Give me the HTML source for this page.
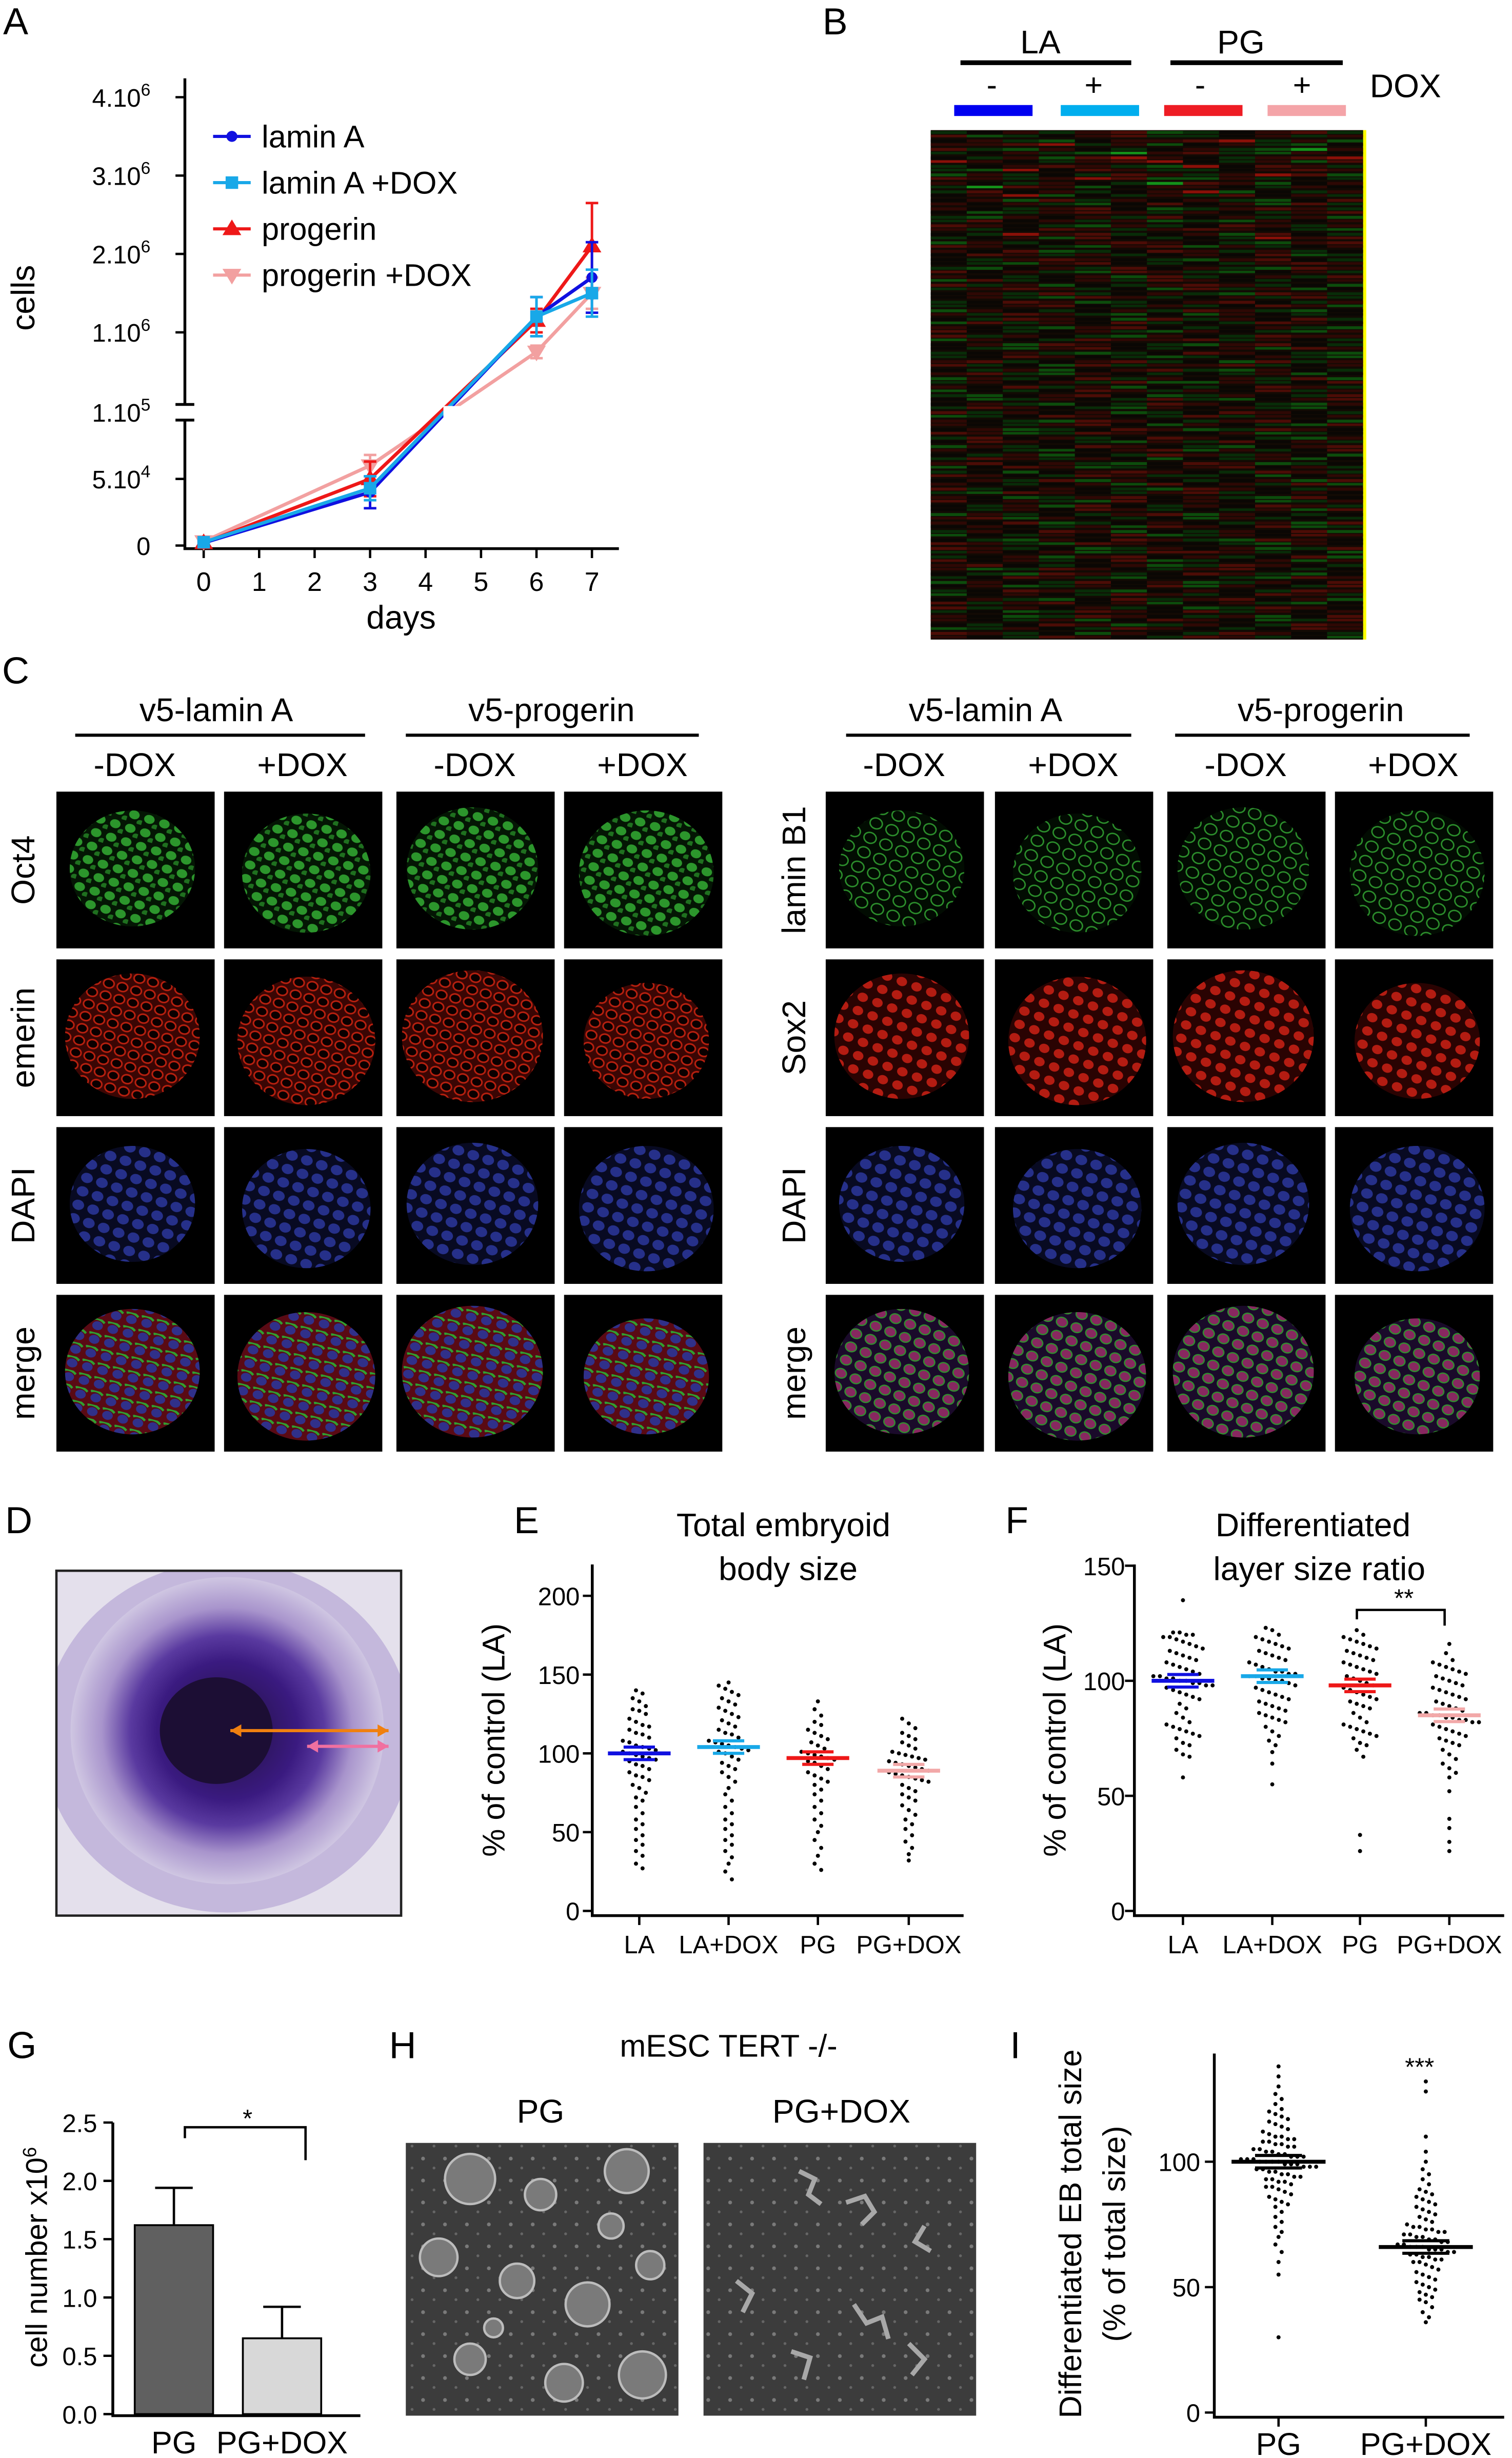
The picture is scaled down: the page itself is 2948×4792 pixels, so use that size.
<!DOCTYPE html>
<html><head><meta charset="utf-8"><style>
html,body{margin:0;padding:0;background:#fff;}
svg{display:block;font-family:"Liberation Sans",Arial,sans-serif;}
</style></head><body>
<svg id="fig" width="2948" height="4792" viewBox="0 0 965 1568" preserveAspectRatio="none" xmlns="http://www.w3.org/2000/svg">
<defs>
<pattern id="pG" width="10" height="9" patternUnits="userSpaceOnUse" patternTransform="rotate(17)"><rect width="10" height="9" fill="#041604"/><ellipse cx="4" cy="4" rx="3.4" ry="2.8" fill="#2c962c"/><ellipse cx="9" cy="8" rx="2.3" ry="1.9" fill="#1f701f"/></pattern>
<pattern id="pGr" width="11" height="10" patternUnits="userSpaceOnUse" patternTransform="rotate(23)"><rect width="11" height="10" fill="#020c02"/><ellipse cx="5" cy="5" rx="4" ry="3.4" fill="none" stroke="#2c902c" stroke-width="0.9"/></pattern>
<pattern id="pR" width="9" height="8" patternUnits="userSpaceOnUse" patternTransform="rotate(15)"><rect width="9" height="8" fill="#3a0604"/><ellipse cx="4.5" cy="4" rx="3.4" ry="2.8" fill="#0a0000" stroke="#b8200f" stroke-width="1"/></pattern>
<pattern id="pR2" width="10" height="9" patternUnits="userSpaceOnUse" patternTransform="rotate(20)"><rect width="10" height="9" fill="#2a0302"/><ellipse cx="5" cy="4.5" rx="3.4" ry="2.9" fill="#b41c12"/></pattern>
<pattern id="pB" width="10" height="9" patternUnits="userSpaceOnUse" patternTransform="rotate(18)"><rect width="10" height="9" fill="#080a22"/><ellipse cx="5" cy="4.5" rx="3.8" ry="3.2" fill="#26308a"/></pattern>
<pattern id="pM" width="10" height="9" patternUnits="userSpaceOnUse" patternTransform="rotate(14)"><rect width="10" height="9" fill="#5a0a14"/><ellipse cx="5" cy="4.5" rx="3.4" ry="2.8" fill="#30308a"/><path d="M1 1 Q5 -1 9 2" stroke="#30a030" stroke-width="1.5" fill="none"/></pattern>
<pattern id="pM2" width="10" height="9" patternUnits="userSpaceOnUse" patternTransform="rotate(21)"><rect width="10" height="9" fill="#1a0a2a"/><ellipse cx="5" cy="4.5" rx="3.6" ry="3" fill="#882860" stroke="#30902e" stroke-width="0.8"/></pattern>
<pattern id="pH" width="14" height="14" patternUnits="userSpaceOnUse"><rect width="14" height="14" fill="#3c3c3c"/><circle cx="4" cy="5" r="1.2" fill="#7a7a7a"/><circle cx="11" cy="11" r="0.9" fill="#666"/></pattern>
<radialGradient id="gD" cx="50%" cy="50%" r="50%"><stop offset="0" stop-color="#20103a"/><stop offset="0.45" stop-color="#3a1a80"/><stop offset="0.62" stop-color="#5a3aa0"/><stop offset="0.8" stop-color="#a894cc"/><stop offset="1" stop-color="#cfc6e2"/></radialGradient>
<clipPath id="clipD"><rect x="36" y="1002" width="220" height="220"/></clipPath>
</defs>
<g id="root"></g>
</svg>
<script>
const NS='http://www.w3.org/2000/svg';
const root=document.getElementById('root');
function mk(tag,at,parent){const e=document.createElementNS(NS,tag);for(const k in at)e.setAttribute(k,at[k]);(parent||root).appendChild(e);return e;}
function tx(s,x,y,sz,anchor,parent,rot){const e=mk('text',{x:x,y:y,'font-size':sz,'text-anchor':anchor||'middle',fill:'#000'},parent);if(rot)e.setAttribute('transform','rotate(-90 '+x+' '+y+')');e.textContent=s;return e;}
function ln(x1,y1,x2,y2,w,c,parent){return mk('line',{x1:x1,y1:y1,x2:x2,y2:y2,stroke:c||'#000','stroke-width':w||1.5},parent);}

/* ===== Panel A data ===== */
const aDays=[0,3,6,7];
const aLaminA=[2000,40000,1200000,1700000];
const aLaminADox=[2500,43000,1200000,1500000];
const aProgerin=[2000,50000,1150000,2100000];
const aProgerinDox=[3000,60000,750000,1500000];
const aErrLaminA=[1000,12000,250000,450000];
const aErrLaminADox=[1000,9000,250000,300000];
const aErrProgerin=[1000,13000,150000,550000];
const aErrProgerinDox=[1000,8000,80000,200000];
const aYTicks=['0','5.10^4','1.10^5','1.10^6','2.10^6','3.10^6','4.10^6'];
const aYTickVals=[0,50000,100000,1000000,2000000,3000000,4000000];
const aXTicks=[0,1,2,3,4,5,6,7];

/* ===== Panel E/F/I data ===== */
const eCats=['LA','LA+DOX','PG','PG+DOX'];
const eMeans=[100,104,97,89];
const eLA=[140,138,135,133,130,128,127,125,122,120,118,117,115,113,112,110,108,107,105,104,103,102,101,100,99,98,97,96,95,93,92,90,88,86,85,83,80,78,75,72,70,66,62,58,55,52,48,45,42,38,35,30,27];
const eLADox=[145,143,141,139,137,135,133,131,129,127,125,123,121,119,117,115,113,112,110,108,107,106,105,104,103,102,101,100,98,96,94,92,90,88,85,82,78,74,70,66,62,58,55,52,48,45,42,38,34,30,25,20];
const ePG=[133,128,124,120,118,115,113,111,109,107,105,103,101,100,99,98,97,96,95,94,92,90,88,86,84,82,80,77,74,70,66,62,58,54,50,45,40,35,30,26];
const ePGDox=[122,119,116,113,111,109,107,105,103,101,100,99,98,97,96,95,94,93,92,91,90,89,88,87,86,85,84,83,82,80,78,76,74,72,70,67,64,61,58,55,52,48,44,40,36,32];
const fCats=['LA','LA+DOX','PG','PG+DOX'];
const fMeans=[100,102,98,85];
const fLA=[135,121,121,120,120,119,119,118,117,116,115,114,113,112,111,110,109,108,107,106,105,104,103,102,102,101,101,100,100,99,99,98,98,97,96,95,94,93,92,90,88,86,84,82,81,80,79,78,77,76,75,73,72,70,68,67,58];
const fLADox=[123,122,120,119,118,117,116,115,114,113,112,111,110,109,108,107,106,105,104,104,103,103,102,102,101,101,100,100,99,98,97,96,95,94,93,92,91,90,89,88,87,86,85,84,83,82,80,78,76,74,72,69,64,55];
const fPG=[122,120,119,118,117,116,115,114,113,112,111,110,109,108,107,106,105,104,103,102,101,100,99,98,97,96,95,94,93,92,91,90,89,88,86,84,82,81,80,79,78,77,76,75,73,72,70,67,33,26];
const fPGDox=[116,112,109,108,107,106,105,104,103,102,101,100,99,98,97,96,95,94,93,92,91,90,89,88,87,86,86,85,85,84,84,83,83,82,82,81,80,79,78,77,76,75,74,73,72,70,68,66,64,62,60,58,52,40,36,30,26];
const gCats=['PG','PG+DOX'];
const gVals=[1.62,0.65];
const gErr=[0.32,0.27];
const gYTicks=[0,0.5,1.0,1.5,2.0,2.5];
const iCats=['PG','PG+DOX'];
const iMeans=[100,66];
const iPG=[138,134,130,127,125,123,121,120,119,118,117,116,115,114,113,112,111,110,110,109,109,108,108,107,107,106,106,105,105,104,104,103,103,102,102,102,101,101,101,100,100,100,100,99,99,99,98,98,98,97,97,96,96,95,95,94,94,93,93,92,92,91,90,90,89,88,87,86,85,84,83,82,80,78,76,74,72,70,67,64,60,55,30];
const iPGDox=[132,128,110,104,100,97,95,93,91,89,88,87,86,85,84,83,82,81,80,79,78,77,76,75,74,74,73,73,72,72,71,71,70,70,69,69,68,68,67,67,66,66,66,65,65,65,64,64,63,63,62,62,61,61,60,60,59,58,57,56,55,54,53,52,51,50,49,48,47,46,45,44,42,40,38,36];
/* heatmap: 0 black,1 dim red,2 dim green,3 red,4 green,5 mid red,6 mid green */
const hmRows=['201215620152','012601153216','526102012641','021653102153','201512630512','612025121356','102102451601','250120136021','016521012605','102150621512','261012501216','510261205121','023152016502','612015102615','105620512120','021510261502','260125012651','102016520125','521602151206','012520126512','205162015021','610201251260','025106521052','102615020126','521026102511','016510261502','201262051026','152015206521','021601526102','612052101256','105216020512','260150621025','012602510261','521016205102','102651021506','016205162510','250120510261','612051026015','021602512106','150126051620','206015102512','012561020165','520102651021','106215012650','021650210512','612021561020','105620102165','210516021056','026105126510','512062101625','201615012056','150201625102','026512051260','610250162105','205126010251','012605215016','521012062510','106251021605','020516210251','512061025102'];
const hmCols=12;

/* ===== Panel A ===== */
(function(){
const g=mk('g',{});


const X=d=>130+d*35.4;
const Y=v=>v<=100000?348-85*v/100000:262-50*v/1000000;
const lbl=tx('A',10,22,24,'middle',g);


const ax=mk('path',{d:'M118 50 L118 258 M118 268 L118 350 L395 350',stroke:'#000','stroke-width':1.8,fill:'none'},g);


ln(112,258,124,258,1.8,'#000',g);ln(112,268,124,268,1.8,'#000',g);
aYTickVals.forEach((v,i)=>{
 if(i===2)return;
 const y=Y(v);ln(112,y,118,y,1.5,'#000',g);
 const t=mk('text',{x:96,y:y+6,'font-size':16,'text-anchor':'end'},g);
 
 
 const p=aYTicks[i].split('^');t.textContent=p[0];
 if(p[1]){const s=mk('tspan',{dy:-7,'font-size':11},t);s.textContent=p[1];}
});
{const t=mk('text',{x:96,y:269,'font-size':16,'text-anchor':'end'},g);t.textContent='1.10';const s=mk('tspan',{dy:-7,'font-size':11},t);s.textContent='5';

}
aXTicks.forEach(d=>{const x=X(d);ln(x,350,x,356,1.5,'#000',g);
 const t=tx(String(d),x,377,17,'middle',g);
 
 });
const xt=tx('days',256,401,21,'middle',g);


const yt=tx('cells',22,190,21,'middle',g,true);


const series=[[aLaminA,aErrLaminA,'#1010e0','circle','lamin A'],[aLaminADox,aErrLaminADox,'#18a8e8','square','lamin A +DOX'],[aProgerin,aErrProgerin,'#ee1818','tri','progerin'],[aProgerinDox,aErrProgerinDox,'#f2a0a0','tridown','progerin +DOX']];
function marker(type,x,y,c,parent){
 if(type==='circle')return mk('circle',{cx:x,cy:y,r:3.5,fill:c},parent);
 if(type==='square')return mk('rect',{x:x-4,y:y-4,width:8,height:8,fill:c},parent);
 if(type==='tri')return mk('path',{d:`M${x} ${y-6}L${x+6} ${y+4}L${x-6} ${y+4}Z`,fill:c},parent);
 return mk('path',{d:`M${x} ${y+6}L${x+6} ${y-4}L${x-6} ${y-4}Z`,fill:c},parent);
}
[3,2,0,1].forEach(si=>{
 const [vals,errs,c,m]=series[si];
 const sg=mk('g',{},g);
 
 
 const pts=vals.map((v,i)=>X(aDays[i])+','+Y(v)).join(' ');
 mk('polyline',{points:pts,stroke:c,'stroke-width':2.2,fill:'none'},sg);
 vals.forEach((v,i)=>{const x=X(aDays[i]);const y1=Y(v+errs[i]),y2=Y(Math.max(0,v-errs[i]));
  ln(x,y1,x,y2,1.6,c,sg);ln(x-4,y1,x+4,y1,1.6,c,sg);ln(x-4,y2,x+4,y2,1.6,c,sg);
  marker(m,x,Y(v),c,sg);});
});
mk('rect',{x:283,y:259,width:12,height:8,fill:'#fff'},g);
series.forEach((s,i)=>{const y=87+i*29.5;
 const lg=mk('g',{},g);
 
 
 ln(136,y,160,y,2,s[2],lg);marker(s[3],148,y,s[2],lg);
 tx(s[4],167,y+7,20,'start',lg);});
})();

/* ===== Panel B ===== */
(function(){
const g=mk('g',{});


const l=tx('B',533,22,24,'middle',g);


tx('LA',664,34,21,'middle',g);tx('PG',792,34,21,'middle',g);
ln(613,40,722,40,3,'#000',g);ln(747,40,857,40,3,'#000',g);
tx('-',633,61,20,'middle',g);tx('+',698,61,20,'middle',g);tx('-',766,61,20,'middle',g);tx('+',831,61,20,'middle',g);
tx('DOX',897,62,21,'middle',g);
[['#0000f0',609],['#00aeee',677],['#ee1c24',743],['#f4a4a8',809]].forEach(b=>{const r=mk('rect',{x:b[1],y:67,width:50,height:7,fill:b[0]},g);
 
 });
const x0=594,y0=83,W=276,H=325;
mk('rect',{x:x0,y:y0,width:W,height:H,fill:'#120a04'},g);
const colors=['#0a0704','#2e0804','#082c08','#8a1008','#14901a','#4c0c06','#0c4c0c'];
const cw=W/hmCols,rh=H/hmRows.length;
hmRows.forEach((row,ri)=>{for(let ci=0;ci<hmCols;ci++){const v=+row[ci];
 const c=mk('rect',{x:x0+ci*cw,y:y0+ri*rh+rh*0.1,width:cw+0.2,height:rh*0.35,fill:colors[v]},g);
 
 
 const v2=+row[(ci+5)%hmCols];
 const c2=mk('rect',{x:x0+ci*cw,y:y0+ri*rh+rh*0.55,width:cw+0.2,height:rh*0.3,fill:colors[v2]},g);
 
 }});
mk('rect',{x:870,y:83,width:2,height:325,fill:'#ffff00'},g);
})();

/* ===== Panel C ===== */
(function(){
const g=mk('g',{});


const l=tx('C',10,436,24,'middle',g);


const rows=[505,612,719,826];
function block(cols,heads,subs,hx,lines,labels,fills,labx){
 heads.forEach((h,i)=>tx(h,hx[i],460,21,'middle',g));
 lines.forEach(a=>ln(a[0],469,a[1],469,2,'#000',g));
 cols.forEach((x,i)=>tx(subs[i],x+50,495,21,'middle',g));
 rows.forEach((y,ri)=>{
  const t=tx(labels[ri],labx,y+50,21,'middle',g,true);
  
  
  cols.forEach((x,ci)=>{
  const im=mk('g',{},g);
  
  
  mk('rect',{x:x,y:y,width:101,height:100,fill:'#000'},im);
  const r=40+((ci*7+ri*3)%6);
  mk('ellipse',{cx:x+50.5+((ci%2)?2:-2),cy:y+50+((ci%2)?2:-1),rx:r,ry:r-3,fill:'url(#'+fills[ri]+')'},im);
 });});
}
block([36,143,253,360],['v5-lamin A','v5-progerin'],['-DOX','+DOX','-DOX','+DOX'],[138,352],[[48,233],[259,446]],['Oct4','emerin','DAPI','merge'],['pG','pR','pB','pM'],22);
block([527,635,745,852],['v5-lamin A','v5-progerin'],['-DOX','+DOX','-DOX','+DOX'],[629,843],[[540,722],[750,938]],['lamin B1','Sox2','DAPI','merge'],['pGr','pR2','pB','pM2'],514);
})();

/* ===== Panel D ===== */
(function(){
const g=mk('g',{});


const l=tx('D',12,978,24,'middle',g);


const cg=mk('g',{'clip-path':'url(#clipD)'},g);
mk('rect',{x:36,y:1002,width:220,height:220,fill:'#e4e0ec'},cg);
mk('ellipse',{cx:145,cy:1108,rx:118,ry:112,fill:'#c4b8dc'},cg);
mk('ellipse',{cx:145,cy:1104,rx:100,ry:98,fill:'url(#gD)'},cg);
mk('ellipse',{cx:138,cy:1104,rx:36,ry:34,fill:'#1c0e34'},cg);
mk('rect',{x:36,y:1002,width:220,height:220,fill:'none',stroke:'#222','stroke-width':1.5},g);
const a1=mk('line',{x1:147,y1:1104,x2:248,y2:1104,stroke:'#f08010','stroke-width':2},g);


mk('path',{d:'M147 1104 l7 -4 v8z M248 1104 l-7 -4 v8z',fill:'#f08010'},g);
const a2=mk('line',{x1:196,y1:1114,x2:248,y2:1114,stroke:'#f070a0','stroke-width':2},g);


mk('path',{d:'M196 1114 l7 -4 v8z M248 1114 l-7 -4 v8z',fill:'#f070a0'},g);
})();

/* ===== Scatter helper ===== */
function scatter(g,groups,means,colors,xs,Y,binPx,dx,r,mw){
 groups.forEach((vals,gi)=>{
  const bins={};
  vals.forEach(v=>{const b=Math.round(Y(v)/binPx);(bins[b]=bins[b]||[]).push(v);});
  Object.keys(bins).forEach(b=>{const arr=bins[b];const n=arr.length;
   arr.forEach((v,k)=>{const off=(k-(n-1)/2)*dx;
    const d=mk('circle',{cx:xs[gi]+off,cy:Y(v),r:r,fill:'#000'},g);
    
    });});
  const y=Y(means[gi]);
  const m=mk('g',{},g);
  
  
  ln(xs[gi]-mw,y,xs[gi]+mw,y,2.5,colors[gi],m);
  ln(xs[gi]-mw/2,y-4,xs[gi]+mw/2,y-4,2,colors[gi],m);ln(xs[gi]-mw/2,y+4,xs[gi]+mw/2,y+4,2,colors[gi],m);
 });
}
const sColors=['#1010e0','#18a8e8','#ee1818','#f2a8a8'];

/* ===== Panel E ===== */
(function(){
const g=mk('g',{});


const l=tx('E',336,978,24,'middle',g);


const t1=tx('Total embryoid',500,980,21,'middle',g);


tx('body size',503,1008,21,'middle',g);
const Y=v=>1219-v*1.005;
const xs=[408,465,522,580];
mk('path',{d:'M378 998 L378 1222 L615 1222',stroke:'#000','stroke-width':1.8,fill:'none'},g);
[0,50,100,150,200].forEach(v=>{ln(372,Y(v),378,Y(v),1.5,'#000',g);
 const t=tx(String(v),370,Y(v)+6,16,'end',g);
 
 });
eCats.forEach((c,i)=>{ln(xs[i],1222,xs[i],1228,1.5,'#000',g);
 const t=tx(c,xs[i],1246,16,'middle',g);
 
 });
const yt=tx('% of control (LA)',322,1110,20,'middle',g,true);


scatter(g,[eLA,eLADox,ePG,ePGDox],eMeans,sColors,xs,Y,7,4.2,1.3,20);
})();

/* ===== Panel F ===== */
(function(){
const g=mk('g',{});


const l=tx('F',649,978,24,'middle',g);


const t1=tx('Differentiated',838,980,21,'middle',g);


tx('layer size ratio',842,1008,21,'middle',g);
const Y=v=>1219-v*1.468;
const xs=[755,812,868,925];
mk('path',{d:'M724 998 L724 1222 L960 1222',stroke:'#000','stroke-width':1.8,fill:'none'},g);
[0,50,100,150].forEach(v=>{ln(718,Y(v),724,Y(v),1.5,'#000',g);
 const t=tx(String(v),718,Y(v)+6,16,'end',g);
 
 });
fCats.forEach((c,i)=>{ln(xs[i],1222,xs[i],1228,1.5,'#000',g);
 const t=tx(c,xs[i],1246,16,'middle',g);
 
 });
const yt=tx('% of control (LA)',680,1110,20,'middle',g,true);


scatter(g,[fLA,fLADox,fPG,fPGDox],fMeans,sColors,xs,Y,8,4.2,1.3,20);
mk('path',{d:'M866 1033 L866 1027 L922 1027 L922 1037',stroke:'#000','stroke-width':1.5,fill:'none'},g);
const s=tx('**',896,1025,16,'middle',g);


})();

/* ===== Panel G ===== */
(function(){
const g=mk('g',{});


const l=tx('G',14,1313,24,'middle',g);


const Y=v=>1540-v*74.4;
const xs=[111,180];
mk('path',{d:'M72 1354 L72 1541 L230 1541',stroke:'#000','stroke-width':1.8,fill:'none'},g);
gYTicks.forEach(v=>{ln(66,Y(v),72,Y(v),1.5,'#000',g);
 const t=tx(v.toFixed(1),62,Y(v)+6,16,'end',g);
 
 });
const fills=['#606060','#d8d8d8'];
gVals.forEach((v,i)=>{
 const b=mk('rect',{x:xs[i]-25,y:Y(v),width:50,height:Y(0)-Y(v),fill:fills[i],stroke:'#000','stroke-width':1.2},g);
 
 
 const ye=Y(v+gErr[i]);ln(xs[i],Y(v),xs[i],ye,1.5,'#000',g);ln(xs[i]-12,ye,xs[i]+12,ye,1.5,'#000',g);
 const t=tx(gCats[i],xs[i],1565,20,'middle',g);
 
 });
const yt=mk('text',{x:30,y:1440,'font-size':19,'text-anchor':'middle',transform:'rotate(-90 30 1440)'},g);
yt.textContent='cell number x10';const sp=mk('tspan',{dy:-7,'font-size':12},yt);sp.textContent='6';


mk('path',{d:'M118 1364 L118 1357 L195 1357 L195 1378',stroke:'#000','stroke-width':1.5,fill:'none'},g);
const s=tx('*',158,1357,16,'middle',g);


})();

/* ===== Panel H ===== */
(function(){
const g=mk('g',{});


const l=tx('H',257,1313,24,'middle',g);


tx('mESC TERT -/-',465,1312,20,'middle',g);
tx('PG',345,1354,21,'middle',g);tx('PG+DOX',537,1354,21,'middle',g);
const i1=mk('rect',{x:259,y:1367,width:174,height:174,fill:'url(#pH)'},g);


[[300,1390,16],[345,1400,10],[400,1385,14],[280,1440,12],[330,1455,11],[375,1470,14],[415,1445,9],[300,1505,10],[360,1520,12],[410,1515,15],[390,1420,8],[315,1485,6]].forEach(c=>{
 mk('circle',{cx:c[0],cy:c[1],r:c[2],fill:'#7a7a7a',stroke:'#bcbcbc','stroke-width':1.5},g);});
const i2=mk('rect',{x:449,y:1367,width:174,height:174,fill:'url(#pH)'},g);


[[510,1385,'M0 0 l10 5 l-4 10 l8 6'],[540,1405,'M0 0 l12 -4 l6 10 l-8 8'],[470,1455,'M0 0 l10 8 l-6 12'],[545,1470,'M0 0 l8 12 l10 -4 l4 14'],[590,1420,'M0 0 l-6 10 l10 6'],[505,1500,'M0 0 l12 4 l-4 14'],[580,1495,'M0 0 l10 10 l-8 10']].forEach(p=>{
 mk('path',{d:p[2],transform:`translate(${p[0]} ${p[1]})`,stroke:'#a8a8a8','stroke-width':3,fill:'none'},g);});
})();

/* ===== Panel I ===== */
(function(){
const g=mk('g',{});


const l=tx('I',648,1313,24,'middle',g);


const Y=v=>1539-v*1.6;
const xs=[816,910];
mk('path',{d:'M775 1310 L775 1542 L960 1542',stroke:'#000','stroke-width':1.8,fill:'none'},g);
[0,50,100].forEach(v=>{ln(769,Y(v),775,Y(v),1.5,'#000',g);
 const t=tx(String(v),766,Y(v)+6,16,'end',g);
 
 });
iCats.forEach((c,i)=>{ln(xs[i],1542,xs[i],1548,1.5,'#000',g);
 const t=tx(c,xs[i],1566,20,'middle',g);
 
 });
const y1=tx('Differentiated EB total size',690,1425,20,'middle',g,true);


const y2=tx('(% of total size)',718,1425,20,'middle',g,true);


scatter(g,[iPG,iPGDox],iMeans,['#000','#000'],xs,Y,6,4,1.3,30);
const s=tx('***',906,1324,16,'middle',g);


})();
</script>
</body></html>
